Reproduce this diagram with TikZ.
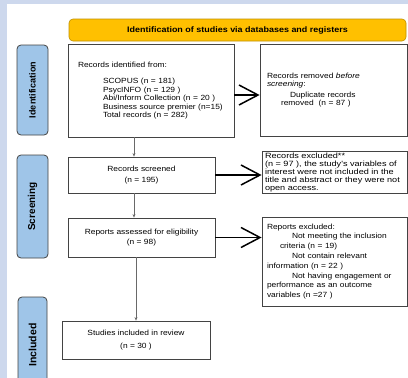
\documentclass[tikz,border=0pt]{standalone}
\usepackage{fontspec}
\setmainfont{Liberation Sans}[FakeStretch=1.12]
\newfontfamily\widesans{Liberation Sans}[FakeStretch=1.2]
\newfontfamily\stagesans{Liberation Sans}
\usetikzlibrary{arrows.meta, positioning, calc}
\definecolor{pagetint}{RGB}{205,216,237}
\definecolor{headamber}{RGB}{255,192,0}
\definecolor{headrim}{RGB}{191,144,0}
\definecolor{stageblue}{RGB}{159,197,232}
\definecolor{rimgray}{RGB}{67,67,67}

\begin{document}
\begin{tikzpicture}[x=1pt, y=-1pt,
  box/.style={draw=rimgray, line width=0.8pt, fill=white, inner ysep=2pt,
    font=\fontsize{7.5}{8.5}\selectfont},
  stagelab/.style={draw=rimgray, line width=0.8pt, fill=stageblue, rounded corners=4pt,
    rotate=90, minimum height=31pt, inner sep=0pt},
  bigarrow/.style={line width=1.5pt, -{Straight Barb[length=19pt, width=20pt]}},
  flow/.style={draw=rimgray!80, line width=0.5pt, -{Stealth[length=3.5pt, width=3pt]}}]
  \useasboundingbox (0,0) rectangle (408,378);
  \fill[pagetint] (0,0) rectangle (408,378);
  \fill[white] (7,4) rectangle (408,378);

  \node[draw=headrim, fill=headamber, rounded corners=4pt, line width=0.6pt,
    minimum width=337pt, minimum height=22pt, inner sep=0pt,
    font=\bfseries\fontsize{8}{9}\selectfont] (head) at (237.5,30)
    {Identification of studies via databases and registers};

  \node[stagelab, minimum width=90pt, font=\stagesans\bfseries\fontsize{9}{10}\selectfont]
    (idlab) at (32.5,90) {Identification};
  \node[stagelab, minimum width=103pt, font=\stagesans\bfseries\fontsize{10}{11}\selectfont]
    (scrlab) at (32.5,206.5) {Screening};
  \node[stagelab, minimum width=96pt, minimum height=29pt, font=\stagesans\bfseries\fontsize{10.5}{11}\selectfont]
    (inclab) at (32.5,345) {Included};

  \node[box, minimum width=166pt, minimum height=93pt, inner xsep=10pt,
    text width=146pt, align=left] (ident) at (151,90.5)
    {Records identified from:\\[8pt]
     \hspace*{25pt}SCOPUS (n = 181)\\
     \hspace*{25pt}PsycINFO (n = 129 )\\
     \hspace*{25pt}Abi/Inform Collection (n = 20 )\\
     \hspace*{25pt}Business source premier (n=15)\\
     \hspace*{25pt}Total records (n = 282)};
  \node[box, minimum width=147pt, minimum height=92pt, inner xsep=7pt,
    text width=133pt, align=left] (removed) at (333.5,90)
    {Records removed \textit{before}\\
     \textit{screening}:\\[2pt]
     \hspace*{23pt}Duplicate records\\
     \hspace*{14pt}removed\ \ (n = 87 )\\[4pt]};

  \node[box, minimum width=147pt, minimum height=36pt, align=center] (screen) at (141.5,175)
    {Records screened\\[2pt](n = 195)};
  \node[box, minimum width=145pt, minimum height=41pt, inner xsep=3pt, text width=139pt,
    align=left, font=\widesans\fontsize{7.6}{7.9}\selectfont] (excl1) at (334.5,172.5)
    {Records excluded**\\
     (n = 97 ), the study's variables of\\
     interest were not included in the\\
     title and abstract or they were not\\
     open access.};

  \node[box, minimum width=147pt, minimum height=39pt, align=center] (assess) at (141.5,237.5)
    {Reports assessed for eligibility\\[2pt](n = 98)};
  \node[box, minimum width=145pt, minimum height=89pt, inner xsep=5pt, text width=135pt,
    align=left, font=\fontsize{7.5}{9.8}\selectfont] (excl2) at (334.5,261.5)
    {Reports excluded:\\
     \hspace*{25pt}Not meeting the inclusion\\
     \hspace*{13pt}criteria (n = 19)\\
     \hspace*{25pt}Not contain relevant\\
     information (n = 22 )\\
     \hspace*{25pt}Not having engagement or\\
     performance as an outcome\\
     variables (n =27 )};

  \node[box, minimum width=148pt, minimum height=38pt, align=center] (incl) at (136,340)
    {Studies included in review\\[4pt](n = 30 )};

  \coordinate (vx) at (134,0);
  \draw[flow] (ident.south -| vx) -- (screen.north -| vx);
  \draw[flow] (screen.south -| vx) -- (assess.north -| vx);
  \draw[flow] (assess.south -| incl.north) -- (incl.north);

  \draw[bigarrow] ([yshift=-4.5pt]ident.east) -- ([yshift=-4.5pt]ident.east -| removed.west);
  \draw[bigarrow] (screen.east) -- (screen.east -| excl1.west);
  \draw[bigarrow] (assess.east) -- (assess.east -| excl2.west);
\end{tikzpicture}
\end{document}
